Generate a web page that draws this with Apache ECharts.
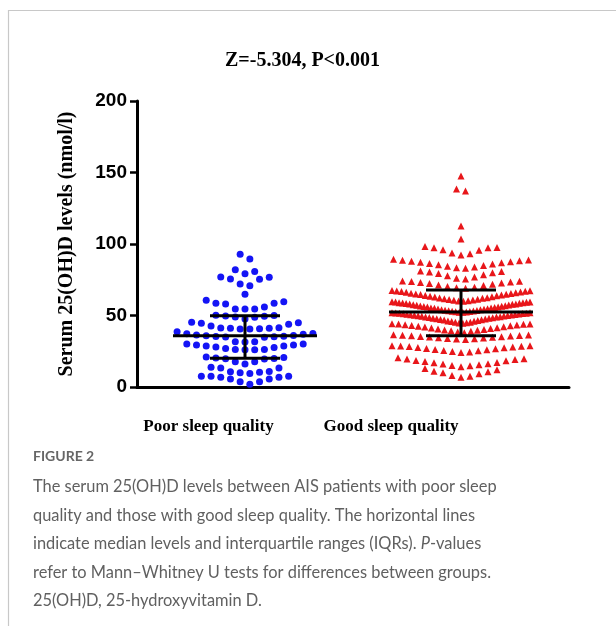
<!DOCTYPE html>
<html>
<head>
<meta charset="utf-8">
<script src="https://cdn.jsdelivr.net/npm/echarts@6/dist/echarts.min.js"></script>
<style>html,body{margin:0;padding:0;background:#fff}#c{width:616px;height:626px}</style>
</head>
<body>
<div id="c"></div>
<script>
// ---------------- data ----------------
const categories = ['Poor sleep quality', 'Good sleep quality'];
const yTicks = [0, 50, 100, 150, 200];
const titleText = 'Z=-5.304, P<0.001';
const yAxisTitle = 'Serum 25(OH)D levels (nmol/l)';

const poorValues = [
  2, 3.7, 3.7, 5.6, 5.6, 6.8, 6.8, 7.5, 7.5, 7.5,
  9.5, 10, 10.3, 10.7, 10.9, 13.3, 13.3, 13.8,
  16, 17.7, 17.7, 19.5, 19.8, 20, 20.3, 20.6, 21,
  26, 26.1, 26.2, 26.2, 27, 27.7, 27.9, 28.6, 28.6, 29.3, 29.3, 30, 30,
  31.5, 31.7, 31.7, 34.8, 35, 35.2, 35.4, 35.5, 35.8, 36, 36.4, 36.9, 37.2, 37.5, 38.7,
  40.5, 40.6, 40.8, 41, 41, 41.2, 41.5, 42.6, 43.8, 44.5, 45, 45.2,
  47.5, 48.8, 49, 49.4, 49.6, 50, 50.2,
  54.5, 54.5, 54.6, 56, 58, 58.5, 58.5, 59.7, 60.6,
  64.8,
  70.8, 72, 75.3, 75.5, 76.7, 76.9,
  79.2, 80.7, 82,
  89.5, 92.8
];

const goodValues = [
  6.8, 7.6, 8.0, 9.2, 10.0, 10.6, 11.1, 12.0, 13.0,
  14.2, 14.8, 15.0, 15.5, 16.0, 16.2, 17.0, 17.2, 17.8, 18.3, 18.5, 19.2, 19.5, 19.8, 20.5,
  24.2, 24.5, 24.8, 25.3, 25.5, 26.0, 26.2, 26.8, 27.0, 27.5, 27.6, 28.0, 28.3, 28.5, 28.6, 28.8, 28.8,
  33.2, 33.5, 33.8, 34.0, 34.2, 34.5, 34.8, 35.0, 35.1, 35.4, 35.6, 35.9, 36.0, 36.2, 36.4, 36.6,
  38.0, 38.4, 38.9, 39.3, 39.6, 39.9, 40.2, 40.6, 40.9, 41.2, 41.5, 41.9, 42.2, 42.5, 42.8, 43.0, 43.3, 43.6, 43.8, 44.0, 44.1, 44.3,
  44.5, 44.8, 45.0, 45.3, 45.3, 45.8, 46.0, 46.1, 46.5, 46.9, 47.0, 47.2, 47.6, 47.7, 48.0, 48.1, 48.4, 48.6, 48.9, 49.0,
  49.2, 49.5, 49.6, 49.9, 50.0, 50.1, 50.4, 50.5, 50.7, 50.9, 51.0, 51.2, 51.4, 51.5, 51.6, 51.8, 51.9, 52.0,
  52.2, 52.3, 52.5, 52.6, 52.8, 53.0, 53.1, 53.4, 53.5, 53.7, 54.0, 54.1, 54.4, 54.6, 54.7, 55.0, 55.2, 55.3, 55.6, 55.9,
  56.0, 56.3, 56.5, 56.6, 56.9, 57.2, 57.3, 57.5, 57.8, 58.0, 58.1, 58.4, 58.5, 58.7, 58.9, 59.0, 59.2, 59.4, 59.5, 59.7,
  59.9, 60.1, 60.4, 60.6, 60.9, 61.2, 61.3, 61.7, 62.0, 62.2, 62.5, 62.9, 63.1, 63.4, 63.8,
  64.0, 64.3, 64.6, 64.8, 65.1, 65.4, 65.6, 65.9, 66.2, 66.4, 66.7, 66.9, 67.1, 67.3, 67.4,
  69.0, 69.4, 69.8, 70.3, 70.9, 71.4, 71.8, 72.3, 72.7, 73.0, 73.4, 73.7, 74.0, 74.2,
  75.5, 76.1, 77.0, 77.8, 78.5, 79.3, 79.9, 80.4, 80.8, 81.2,
  83.0, 83.4, 83.9, 84.5, 85.0, 85.5, 86.0, 86.4, 86.9, 87.3, 87.6, 88.0, 88.3, 88.6, 88.8, 89.3,
  92.3, 93.2, 93.7, 95.6, 96.0, 97.4, 97.4, 97.6, 98.2,
  103.5, 112.6, 137.0, 138.5, 147.5
];

// median and interquartile range, as drawn by the bars
const medians = [35.9, 52.4];
const q1s = [20.1, 35.8];
const q3s = [49.9, 67.8];

const figureLabel = 'FIGURE 2';
const captionLines = [
  'The serum 25(OH)D levels between AIS patients with poor sleep',
  'quality and those with good sleep quality. The horizontal lines',
  'indicate median levels and interquartile ranges (IQRs). {i|P}-values',
  'refer to Mann\u2013Whitney U tests for differences between groups.',
  '25(OH)D, 25-hydroxyvitamin D.'
];

// ---------------- layout ----------------
const G = { left: 137, top: 101, width: 432, height: 286 };
const pxPerX = G.width / 2;

// GraphPad-style scatter dot layout: bin by value, spread each bin horizontally
function swarm(values, catIndex, o) {
  const bins = new Map();
  values.forEach(v => {
    const k = Math.floor((v - o.origin) / o.bin);
    if (!bins.has(k)) bins.set(k, []);
    bins.get(k).push(v);
  });
  const pts = [];
  bins.forEach(list => {
    list.sort((a, b) => a - b);
    const n = list.length;
    const s = n > 1 ? Math.min(o.slot, 2 * o.maxHalf / (n - 1)) : o.slot;
    list.forEach((v, k) => {
      let off;
      if (n % 2 === 1) {
        const m = Math.ceil(k / 2);
        off = k === 0 ? 0 : (k % 2 === 1 ? m : -m);
      } else {
        const m = Math.floor(k / 2) + 0.5;
        off = k % 2 === 0 ? m : -m;
      }
      pts.push([catIndex + off * s / pxPerX, v]);
    });
  });
  return pts;
}

const poorPts = swarm(poorValues, 0, { bin: 7.7, origin: 0.5, slot: 9.7, maxHalf: 68 });
const goodPts = swarm(goodValues, 1, { bin: 7.7, origin: 5.9, slot: 9.0, maxHalf: 69 });

const serif = 'Liberation Serif';
const capColor = '#606060';
const capFont = 'Lato';
const capSize = 16.4;

const chart = echarts.init(document.getElementById('c'), null, { renderer: 'canvas' });
chart.setOption({
  animation: false,
  backgroundColor: '#fff',
  title: {
    text: titleText, left: 220, top: 46,
    textStyle: { fontFamily: serif, fontWeight: 'bold', fontSize: 20, color: '#000' }
  },
  grid: { left: G.left, top: G.top, width: G.width, height: G.height, containLabel: false },
  xAxis: [
    {
      type: 'category', data: categories, position: 'bottom',
      axisLine: { onZero: false, lineStyle: { color: '#000', width: 3 } },
      axisTick: { alignWithLabel: true, length: 6, lineStyle: { color: '#000', width: 2.5 } },
      axisLabel: {
        interval: 0, margin: 31, color: '#000',
        fontFamily: serif, fontWeight: 'bold', fontSize: 17,
        formatter: (v, i) => (i === 0 ? '{a|' : '{b|') + v + '}',
        rich: {
          a: { fontFamily: serif, fontWeight: 'bold', fontSize: 17, color: '#000', padding: [0, 73, 0, 0] },
          b: { fontFamily: serif, fontWeight: 'bold', fontSize: 17, color: '#000', padding: [0, 140, 0, 0] }
        }
      },
      splitLine: { show: false }
    },
    { type: 'value', min: -0.5, max: 1.5, show: false }
  ],
  yAxis: {
    type: 'value', min: yTicks[0], max: yTicks[yTicks.length - 1], interval: yTicks[1] - yTicks[0],
    position: 'left',
    name: yAxisTitle, nameLocation: 'middle', nameGap: 60,
    nameTextStyle: { fontFamily: serif, fontWeight: 'bold', fontSize: 20, color: '#000' },
    axisLine: { show: true, onZero: false, lineStyle: { color: '#000', width: 3 } },
    axisTick: { show: true, length: 7, lineStyle: { color: '#000', width: 2.5 } },
    axisLabel: { margin: 10, color: '#000', fontFamily: 'Liberation Sans', fontWeight: 'bold', fontSize: 19 },
    splitLine: { show: false }
  },
  series: [
    {
      type: 'scatter', name: categories[0], xAxisIndex: 1, data: poorPts,
      symbol: 'circle', symbolSize: 7, itemStyle: { color: '#1414f5', opacity: 1 }
    },
    {
      type: 'scatter', name: categories[1], xAxisIndex: 1, data: goodPts,
      symbol: 'triangle', symbolSize: [7, 7], itemStyle: { color: '#e8161a', opacity: 1 }
    },
    {
      type: 'custom', xAxisIndex: 0, z: 10,
      data: categories.map((c, i) => [i, q1s[i], medians[i], q3s[i]]),
      encode: { x: 0, y: [1, 2, 3] },
      renderItem: (params, api) => {
        const lo = api.coord([api.value(0), api.value(1)]);
        const md = api.coord([api.value(0), api.value(2)]);
        const hi = api.coord([api.value(0), api.value(3)]);
        const x = md[0];
        const st = { stroke: '#000', lineWidth: 3 };
        return {
          type: 'group',
          children: [
            { type: 'line', shape: { x1: x - 72, y1: md[1], x2: x + 72, y2: md[1] }, style: st },
            { type: 'line', shape: { x1: x - 35, y1: lo[1], x2: x + 35, y2: lo[1] }, style: st },
            { type: 'line', shape: { x1: x - 35, y1: hi[1], x2: x + 35, y2: hi[1] }, style: st },
            { type: 'line', shape: { x1: x, y1: lo[1], x2: x, y2: hi[1] }, style: st }
          ]
        };
      }
    }
  ],
  graphic: [
    { type: 'line', shape: { x1: 8, y1: 10.5, x2: 616, y2: 10.5 }, style: { stroke: '#c8c8c8', lineWidth: 1.2 } },
    { type: 'line', shape: { x1: 8.5, y1: 10, x2: 8.5, y2: 626 }, style: { stroke: '#c8c8c8', lineWidth: 1.2 } },
    { type: 'text', x: 33, y: 456, style: { text: figureLabel, fontFamily: capFont, fontWeight: 'bold', fontSize: 14, fill: '#666', verticalAlign: 'middle', align: 'left' } }
  ].concat(captionLines.map((t, i) => ({
    type: 'text', x: 33, y: 487 + i * 28.5,
    style: {
      text: t, fontFamily: capFont, fontSize: capSize, fill: capColor, verticalAlign: 'middle', align: 'left',
      rich: { i: { fontFamily: capFont, fontSize: capSize, fontStyle: 'italic', fill: capColor } }
    }
  })))
});
</script>
</body>
</html>
